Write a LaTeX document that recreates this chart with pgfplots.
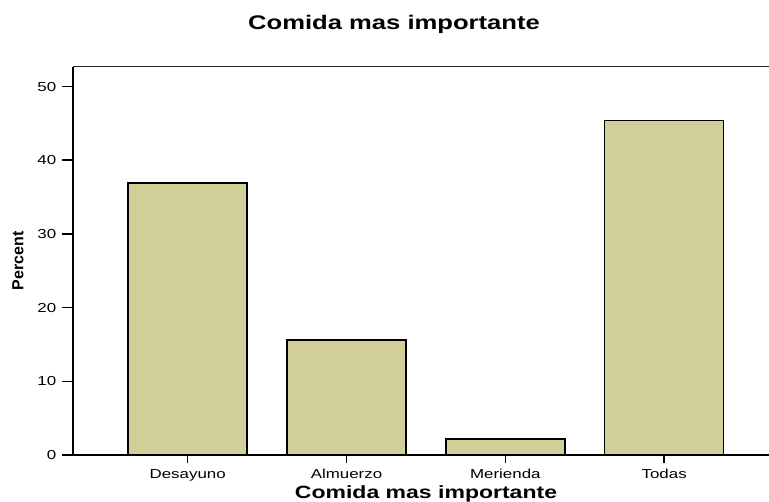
\documentclass[border=0pt]{standalone}
\usepackage{fontspec}
\setmainfont[FakeStretch=1.3]{Liberation Sans}
\newfontfamily\plainsans{Liberation Sans}
\usepackage{pgfplots}
\pgfplotsset{compat=1.18}
\definecolor{barfill}{RGB}{210,206,152}

\begin{document}
\begin{tikzpicture}
\begin{axis}[%
    ,scale only axis
    ,width=695.7bp,height=388.3bp
    ,xmin=-0.72,xmax=3.66
    ,ymin=0,ymax=52.7
    ,clip=false
    ,axis x line=bottom,axis y line=left
    ,axis line style={-,line width=1.6bp,black}
    ,xtick={0,1,2,3}
    ,xticklabels={Desayuno,Almuerzo,Merienda,Todas}
    ,ytick={0,10,20,30,40,50}
    ,tick align=outside
    ,major tick length=11bp
    ,x tick style={/pgfplots/major tick length=8bp,line width=1.6bp,black}
    ,y tick style={line width=1.6bp,black}
    ,tick label style={font=\fontsize{13bp}{15bp}\selectfont}
    ,y tick label style={xshift=-2.5bp}
    ,/pgf/number format/assume math mode=true
    ,title={Comida mas importante}
    ,title style={font=\bfseries\fontsize{19.7bp}{22bp}\selectfont,at={(axis description cs:0.461,1.1203)},anchor=center,yshift=-10bp}
    ,xlabel={Comida mas importante}
    ,xlabel style={font=\bfseries\fontsize{17.7bp}{20bp}\selectfont,at={(axis description cs:0.507,-0.0995)},anchor=center}
    ,ylabel={Percent}
    ,ylabel style={font=\plainsans\bfseries\fontsize{16bp}{18bp}\selectfont,at={(axis description cs:-0.0795,0.5)},anchor=center}
    ]
    \addplot[ybar,bar width=0.75,fill=barfill,draw=black,line width=1.5bp]
        coordinates {(0,36.9) (1,15.6) (2,2.2) (3,45.4)};
    % top frame line (no right line in the original)
    \draw[line width=1.2bp,black!85] (rel axis cs:0,1) -- (rel axis cs:1,1);
\end{axis}
\pgfresetboundingbox
\path ([xshift=-73.3bp,yshift=-47bp]current axis.south west) rectangle ([yshift=66.7bp]current axis.north east);
\end{tikzpicture}
\end{document}
